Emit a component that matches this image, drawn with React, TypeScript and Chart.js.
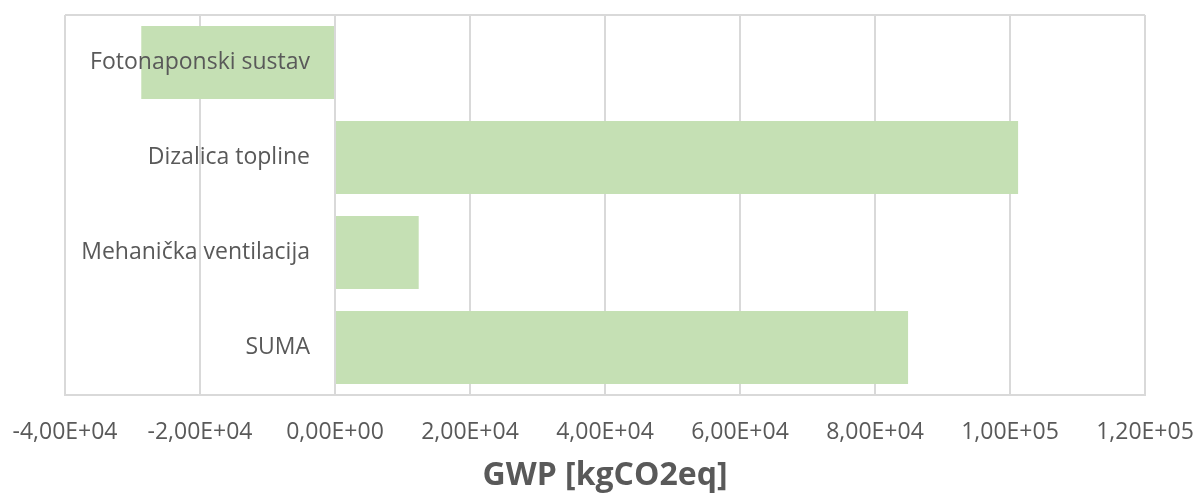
import { useEffect, useRef } from 'react';
import { Chart, registerables } from 'chart.js';

Chart.register(...registerables);

const categories = ['Fotonaponski sustav', 'Dizalica topline', 'Mehanička ventilacija', 'SUMA'];
const gwpValues = [-28700, 101200, 12400, 84900];
const xTickValues = [-40000, -20000, 0, 20000, 40000, 60000, 80000, 100000, 120000];
const xTickLabels = ['-4,00E+04', '-2,00E+04', '0,00E+00', '2,00E+04', '4,00E+04', '6,00E+04', '8,00E+04', '1,00E+05', '1,20E+05'];
const axisTitle = 'GWP [kgCO2eq]';

const FONT = "'Open Sans', 'Noto Sans', sans-serif";
const TEXT = '#595959';
const GRID = '#d9d9d9';

const categoryLabelPlugin = {
  id: 'categoryLabels',
  afterDatasetsDraw(chart: any) {
    const { ctx, scales } = chart;
    const x0 = scales.x.getPixelForValue(0) - 25;
    ctx.save();
    ctx.font = `23px ${FONT}`;
    ctx.fillStyle = TEXT;
    ctx.textAlign = 'right';
    ctx.textBaseline = 'middle';
    categories.forEach((label, i) => {
      ctx.fillText(label, x0, scales.y.getPixelForValue(i));
    });
    ctx.restore();
  },
};

export default function App() {
  const canvasRef = useRef<HTMLCanvasElement | null>(null);

  useEffect(() => {
    if (!canvasRef.current) return;
    const chart = new Chart(canvasRef.current, {
      type: 'bar',
      data: {
        labels: categories,
        datasets: [
          {
            data: gwpValues,
            backgroundColor: '#c5e0b4',
            borderWidth: 0,
            barPercentage: 0.77,
            categoryPercentage: 1,
          },
        ],
      },
      options: {
        indexAxis: 'y',
        animation: false,
        responsive: true,
        maintainAspectRatio: false,
        layout: { padding: { left: 65, right: 55, top: 15, bottom: 0 } },
        plugins: {
          legend: { display: false },
          tooltip: { enabled: false },
        },
        scales: {
          x: {
            type: 'linear',
            min: -40000,
            max: 120000,
            afterBuildTicks: (scale: any) => {
              scale.ticks = xTickValues.map((v) => ({ value: v }));
            },
            afterFit: (scale: any) => {
              scale.height = 100;
              scale.paddingLeft = 0;
              scale.paddingRight = 0;
            },
            ticks: {
              autoSkip: false,
              maxRotation: 0,
              padding: 24,
              color: TEXT,
              font: { family: FONT, size: 23 },
              callback: (_v: any, index: number) => xTickLabels[index],
            },
            grid: {
              color: GRID,
              lineWidth: 2,
              drawTicks: false,
            },
            border: { display: true, color: GRID, width: 2 },
            title: {
              display: true,
              text: axisTitle,
              color: TEXT,
              font: { family: FONT, size: 32, weight: 'bold' },
              padding: { top: 0, bottom: 0 },
            },
          },
          y: {
            type: 'category',
            afterFit: (scale: any) => {
              scale.width = 0;
              scale.paddingTop = 0;
              scale.paddingBottom = 0;
            },
            ticks: { display: false },
            grid: {
              offset: true,
              drawTicks: false,
              lineWidth: 2,
              color: (ctx: any) =>
                ctx.index === 0 || ctx.index === categories.length ? GRID : 'rgba(0,0,0,0)',
            },
            border: { display: false },
          },
        },
      },
      plugins: [categoryLabelPlugin],
    });
    return () => chart.destroy();
  }, []);

  return (
    <div style={{ position: 'fixed', left: 0, top: 0, width: 1200, height: 495, background: '#fff' }}>
      <canvas ref={canvasRef} />
    </div>
  );
}
